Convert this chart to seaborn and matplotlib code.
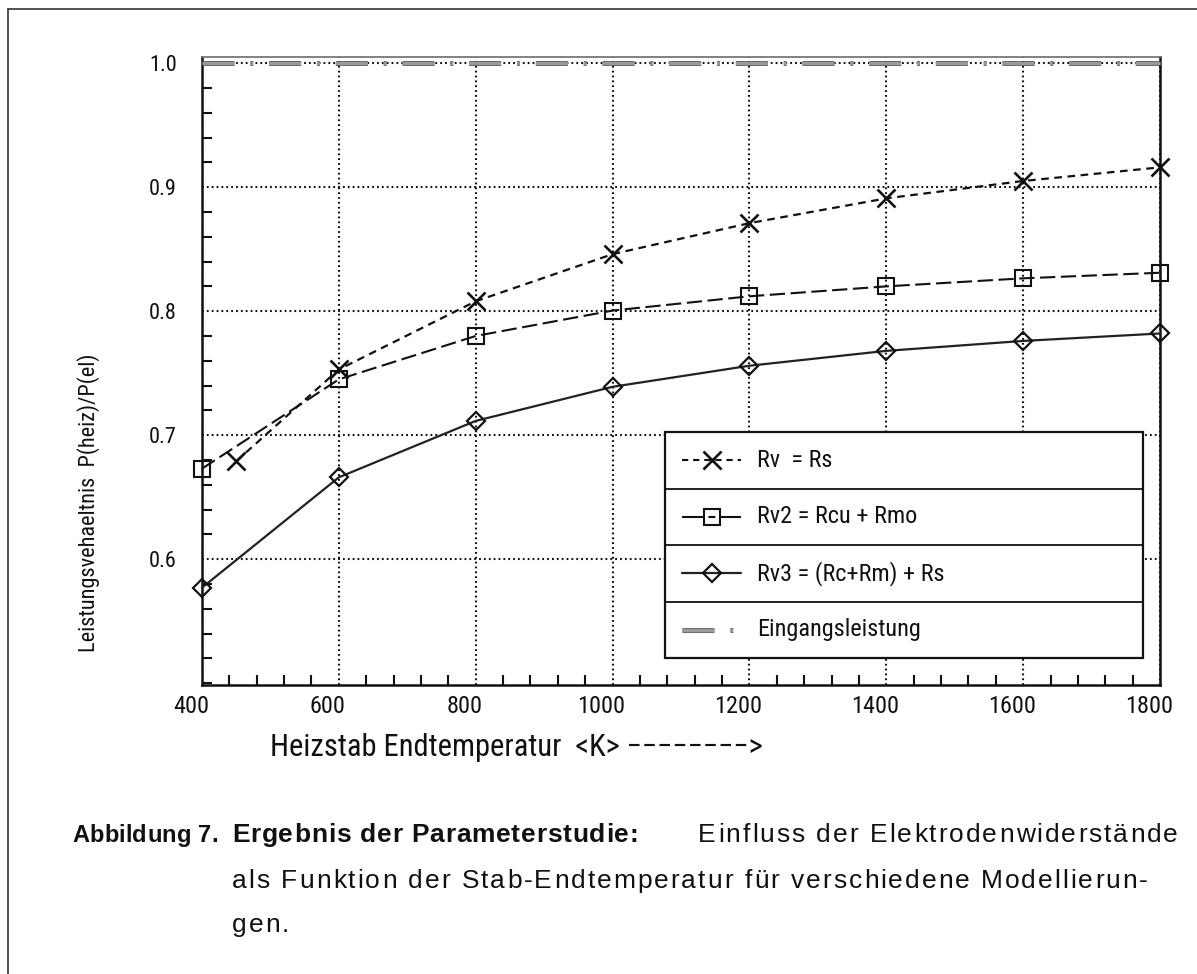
import numpy as np
import pandas as pd
import seaborn as sns
import matplotlib
matplotlib.use("Agg")
import matplotlib.pyplot as plt
from matplotlib import font_manager as fm
from matplotlib.font_manager import FontProperties
from matplotlib.lines import Line2D
from matplotlib.patches import Rectangle
from matplotlib.ticker import MultipleLocator
import matplotlib.transforms as mtransforms

# ---- data -------------------------------------------------------------
temps = [400, 600, 800, 1000, 1200, 1400, 1600, 1800]
temps_rv = [450, 600, 800, 1000, 1200, 1400, 1600, 1800]
ratio_rv = [0.679, 0.753, 0.808, 0.846, 0.871, 0.891, 0.905, 0.916]
ratio_rv2 = [0.673, 0.745, 0.780, 0.8005, 0.812, 0.820, 0.8265, 0.831]
ratio_rv3 = [0.577, 0.666, 0.7115, 0.739, 0.756, 0.768, 0.776, 0.782]
input_temps = [400, 1800]
input_power = [1.0, 1.0]

series_labels = ["Rv  = Rs", "Rv2 = Rcu + Rmo", "Rv3 = (Rc+Rm) + Rs", "Eingangsleistung"]
x_ticks = [400, 600, 800, 1000, 1200, 1400, 1600, 1800]
y_ticks = [0.6, 0.7, 0.8, 0.9, 1.0]
x_label = "Heizstab Endtemperatur  <K> \u2212\u2212\u2212\u2212\u2212\u2212\u2212\u2212>"
y_label = "Leistungsvehaeltnis  P(heiz)/P(el)"
cap_head = "Abbildung 7."
cap_bold = "Ergebnis der Parameterstudie:"
cap_rest = "Einfluss der Elektrodenwiderstände"
cap_line2 = "als Funktion der Stab-Endtemperatur für verschiedene Modellierun-"
cap_line3 = "gen."

# ---- style ------------------------------------------------------------
sns.set_theme(style="white")
names = {f.name for f in fm.fontManager.ttflist}
narrow = "DejaVu Sans"
for cand in ["Liberation Sans Narrow", "Roboto Condensed", "Open Sans Condensed",
             "DejaVu Sans Condensed"]:
    if cand in names:
        narrow = cand
        break
plt.rcParams["font.family"] = [narrow, "DejaVu Sans"]
plt.rcParams["lines.scale_dashes"] = False
plt.rcParams["axes.linewidth"] = 1.6

W, H = 1197, 974
fig = plt.figure(figsize=(W / 100, H / 100), dpi=100)
fig.patch.set_facecolor("white")

L, R, T, B = 202, 1160, 57, 685
ax = fig.add_axes([L / W, 1 - B / H, (R - L) / W, (B - T) / H])
ax.set_facecolor("white")

df_rv = pd.DataFrame({"T": temps_rv, "ratio": ratio_rv})
df_rv2 = pd.DataFrame({"T": temps, "ratio": ratio_rv2})
df_rv3 = pd.DataFrame({"T": temps, "ratio": ratio_rv3})
df_in = pd.DataFrame({"T": input_temps, "ratio": input_power})

ink = "#111111"
style_rv = dict(color=ink, lw=1.6, linestyle=(0, (5.5, 4)), marker="x", markersize=13,
                markeredgecolor=ink, markeredgewidth=1.9)
style_rv2 = dict(color=ink, lw=1.5, linestyle=(0, (11, 4)), marker="s", markersize=12,
                 markerfacecolor="none", markeredgecolor=ink, markeredgewidth=1.5)
style_rv3 = dict(color="#222222", lw=1.6, linestyle="-", marker="D", markersize=8.8,
                 markerfacecolor="none", markeredgecolor=ink, markeredgewidth=1.6)
dash_in = (0, (23, 11.5, 2, 11.5))

# input power line (dark edge under a grey stroke)
sns.lineplot(data=df_in, x="T", y="ratio", ax=ax, color="#555555", lw=3.4,
             linestyle=dash_in, zorder=3, clip_on=False)
sns.lineplot(data=df_in, x="T", y="ratio", ax=ax, color="#9a9a9a", lw=2.2,
             linestyle=dash_in, zorder=3.1, clip_on=False)
sns.lineplot(data=df_rv3, x="T", y="ratio", ax=ax, zorder=4, clip_on=False, **style_rv3)
sns.lineplot(data=df_rv2, x="T", y="ratio", ax=ax, zorder=4, clip_on=False, **style_rv2)
sns.lineplot(data=df_rv, x="T", y="ratio", ax=ax, zorder=4, clip_on=False, **style_rv)

ax.set_xlim(400, 1800)
ax.set_ylim(0.4985, 1.005)
ax.set_xticks(x_ticks)
ax.set_yticks(y_ticks)
ax.set_xticklabels([str(v) for v in x_ticks])
ax.set_yticklabels([f"{v:.1f}" for v in y_ticks])
ax.xaxis.set_minor_locator(MultipleLocator(40))
ax.yaxis.set_minor_locator(MultipleLocator(0.02))
ax.tick_params(axis="x", which="major", direction="in", length=18, width=1.5,
               pad=7, labelsize=17.5, colors=ink, top=False)
ax.tick_params(axis="y", which="major", direction="in", length=14, width=1.5,
               pad=18, labelsize=16, colors=ink, right=False)
ax.tick_params(which="minor", direction="in", length=7, width=1.5, colors=ink,
               top=False, right=False)
ax.tick_params(axis="x", which="minor", bottom=True)
ax.tick_params(axis="y", which="minor", left=True)
ax.set_xlabel("")
ax.set_ylabel("")

# tick labels sit a little left of their ticks
shift = mtransforms.ScaledTranslation(-11 / 100, 0, fig.dpi_scale_trans)
for lab in ax.get_xticklabels():
    lab.set_transform(lab.get_transform() + shift)

ax.grid(True, which="major", color=ink, linestyle=(0, (1.3, 2.2)), linewidth=1.5)
ax.set_axisbelow(True)
for sp in ["left", "bottom", "right"]:
    ax.spines[sp].set_color(ink)
    ax.spines[sp].set_linewidth(1.8)
ax.spines["top"].set_color("#777777")
ax.spines["top"].set_linewidth(1.3)

# ---- boxed legend with row separators ----------------------------------
def fx(px):
    return (px - L) / (R - L)

def fy(py):
    return (B - py) / (B - T)

box_l, box_r, box_t, box_b = 665, 1143, 432, 658
ax.add_patch(Rectangle((fx(box_l), fy(box_b)), fx(box_r) - fx(box_l), fy(box_t) - fy(box_b),
                       transform=ax.transAxes, facecolor="white", edgecolor=ink,
                       lw=1.6, zorder=6))
rowh = (box_b - box_t) / 4
for i in range(1, 4):
    yy = fy(box_t + i * rowh)
    ax.add_line(Line2D([fx(box_l), fx(box_r)], [yy, yy], transform=ax.transAxes,
                       color=ink, lw=1.3, zorder=7))

h0, h1, hm = 682, 741, 712
handle_styles = [
    dict(style_rv, lw=1.5, linestyle=(0, (4.5, 3.5))),
    dict(style_rv2, linestyle=(0, (16, 3, 5, 3))),
    style_rv3,
]
for i, st in enumerate(handle_styles):
    yc = fy(box_t + (i + 0.5) * rowh)
    ax.plot([fx(h0), fx(hm), fx(h1)], [yc, yc, yc], transform=ax.transAxes,
            markevery=[1], zorder=8, clip_on=False, **st)
yc = fy(box_t + 3.5 * rowh)
ax.plot([fx(h0), fx(736)], [yc, yc], transform=ax.transAxes, color="#555555", lw=3.4,
        linestyle=dash_in, zorder=8)
ax.plot([fx(h0), fx(736)], [yc, yc], transform=ax.transAxes, color="#9a9a9a", lw=2.2,
        linestyle=dash_in, zorder=8.1)
for i, lab in enumerate(series_labels):
    yc = fy(box_t + (i + 0.5) * rowh)
    ax.text(fx(757), yc, lab, transform=ax.transAxes, ha="left", va="center",
            fontsize=17.5, color=ink, zorder=9)

# ---- axis titles ------------------------------------------------------
fig.text(270 / W, 1 - 748 / H, x_label, ha="left", va="center", fontsize=22, color=ink)
fig.text(89 / W, 1 - 503 / H, y_label, ha="center", va="center", rotation=90,
         fontsize=16, color=ink)

# ---- page frame -------------------------------------------------------
fig.add_artist(Line2D([8 / W, 1.0], [1 - 9 / H, 1 - 9 / H], transform=fig.transFigure,
                      color="#333333", lw=1.2))
fig.add_artist(Line2D([8 / W, 8 / W], [0.0, 1 - 9 / H], transform=fig.transFigure,
                      color="#333333", lw=1.2))

# ---- caption ----------------------------------------------------------
renderer = fig.canvas.get_renderer()


def text_width(s, prop):
    w, _, _ = renderer.get_text_width_height_descent(s, prop, ismath=False)
    return w


def tracked_text(s, x, y_base, size, weight="normal", track=0.0, align="left"):
    """Draw s on baseline y_base with `track` extra pixels between letters."""
    prop = FontProperties(family=["Liberation Sans", "DejaVu Sans"], weight=weight,
                          size=size)
    ref = text_width("|", prop)
    offs = [text_width(s[:i] + "|", prop) - ref for i in range(len(s))]
    total = text_width(s, prop) + track * (len(s) - 1)
    x0 = x - total if align == "right" else x
    for i, ch in enumerate(s):
        if ch == " ":
            continue
        fig.text((x0 + offs[i] + i * track) / W, 1 - y_base / H, ch, ha="left",
                 va="baseline", fontproperties=prop, color=ink)


cap_size = 19
tracked_text(cap_head, 72, 842, 17, weight="bold", track=0.3)
tracked_text(cap_bold, 232, 842, cap_size, weight="bold", track=0.8)
tracked_text(cap_rest, 1178, 842, cap_size, track=2.0, align="right")
tracked_text(cap_line2, 232, 888, cap_size, track=2.0)
tracked_text(cap_line3, 232, 932, cap_size, track=2.0)

fig.savefig("out.png", dpi=100, facecolor="white")
